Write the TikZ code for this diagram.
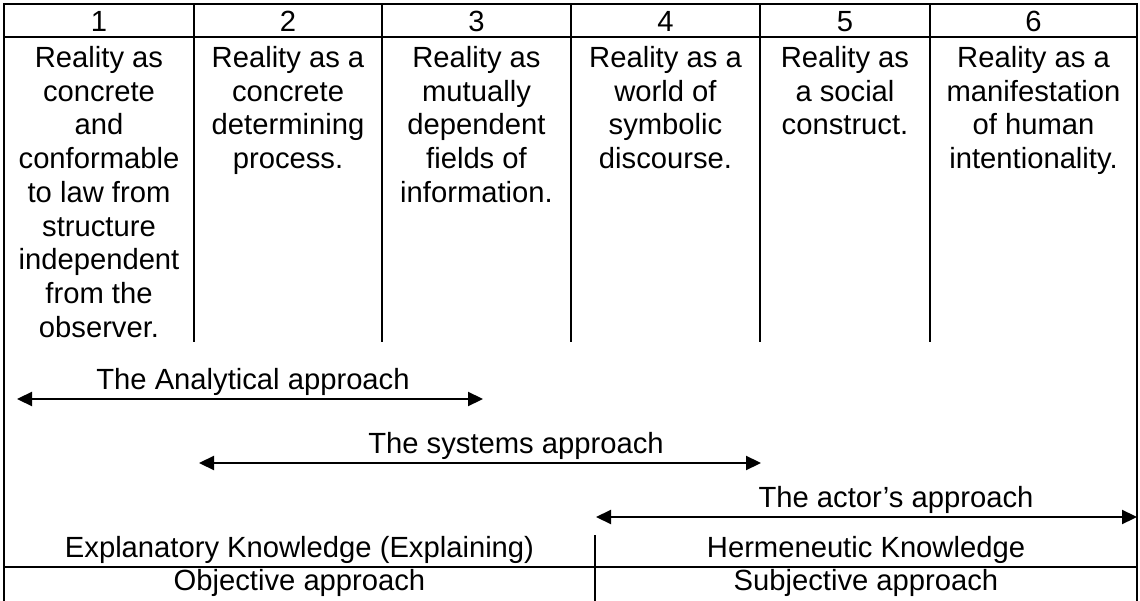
\documentclass[tikz,border=0pt]{standalone}
\usepackage{fontspec}
\setmainfont{Liberation Sans}
\usetikzlibrary{arrows.meta}

\begin{document}
\begin{tikzpicture}[x=1pt,y=-1pt,
  gridline/.style={line width=2.2pt},
  txt/.style={inner sep=0pt,font=\fontsize{29.2pt}{33.75pt}\selectfont},
  coltext/.style={txt,anchor=north,align=center},
  lbl/.style={txt,anchor=base},
  spanarrow/.style={line width=2.2pt,{Triangle[length=15pt,width=14pt]}-{Triangle[length=15pt,width=14pt]}}]
\useasboundingbox (0,0) rectangle (1140,601);
\draw[gridline] (4,601) -- (4,4) -- (1137,4) -- (1137,601);
\draw[gridline] (4,37) -- (1137,37);
\draw[gridline] (194,4) -- (194,342);
\draw[gridline] (382,4) -- (382,342);
\draw[gridline] (571,4) -- (571,342);
\draw[gridline] (760,4) -- (760,342);
\draw[gridline] (930,4) -- (930,342);
\draw[gridline] (4,567) -- (1137,567);
\draw[gridline] (595,535) -- (595,601);

\node[lbl] (n1) at (99,32) {1};
\node[lbl] (n2) at (288,32) {2};
\node[lbl] (n3) at (476.5,32) {3};
\node[lbl] (n4) at (665.5,32) {4};
\node[lbl] (n5) at (845,32) {5};
\node[lbl] (n6) at (1033.5,32) {6};

\node[coltext] (c1) at (99,46) {Reality as\\concrete\\and\\conformable\\to law from\\structure\\independent\\from the\\observer.};
\node[coltext] (c2) at (288,46) {Reality as a\\concrete\\determining\\process.};
\node[coltext] (c3) at (476.5,46) {Reality as\\mutually\\dependent\\fields of\\information.};
\node[coltext] (c4) at (665.5,46) {Reality as a\\world of\\symbolic\\discourse.};
\node[coltext] (c5) at (845,46) {Reality as\\a social\\construct.};
\node[coltext] (c6) at (1033.5,46) {Reality as a\\manifestation\\of human\\intentionality.};

\node[lbl] (ana) at (253,389) {The Analytical approach};
\coordinate (ana-l) at (17,399);
\coordinate (ana-r) at (483,399);
\draw[spanarrow] (ana-l) -- (ana-r);

\node[lbl] (sys) at (516,453) {The systems approach};
\coordinate (sys-l) at (199,463);
\coordinate (sys-r) at (761,463);
\draw[spanarrow] (sys-l) -- (sys-r);

\node[lbl] (act) at (896,507) {The actor’s approach};
\coordinate (act-l) at (596,517);
\coordinate (act-r) at (1137,517);
\draw[spanarrow] (act-l) -- (act-r);

\node[lbl] (expl) at (299.5,557) {Explanatory Knowledge (Explaining)};
\node[lbl] (herm) at (866,557) {Hermeneutic Knowledge};
\node[lbl] (obj) at (299.5,590) {Objective approach};
\node[lbl] (subj) at (866,590) {Subjective approach};
\end{tikzpicture}
\end{document}
